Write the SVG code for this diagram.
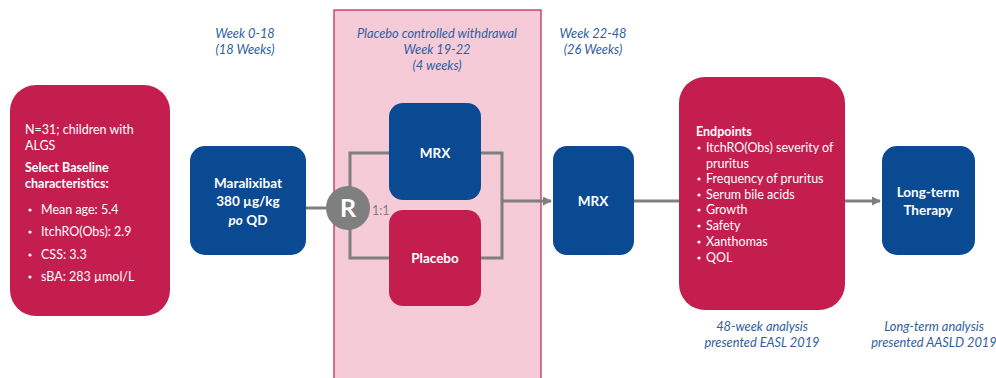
<svg xmlns="http://www.w3.org/2000/svg" width="996" height="378" viewBox="0 0 996 378">
<defs>
<style>
.red{fill:#C41E4F}
.blue{fill:#0A4A93}
.wt{fill:#fff;font-family:Lato,"Open Sans",sans-serif;font-weight:bold;font-size:13.5px;text-anchor:middle}
.lt{fill:#fff;font-family:Lato,"Open Sans",sans-serif;font-size:12.5px}
.lb{fill:#fff;font-family:Lato,"Open Sans",sans-serif;font-size:12.5px;font-weight:bold}
.it{fill:#2F5E9E;font-family:Lato,"Open Sans",sans-serif;font-style:italic;font-size:12.8px;text-anchor:middle}
.ln{stroke:#7F7F7F;stroke-width:3;fill:none}
.bu{fill:#fff}
</style>
<marker id="ah" viewBox="0 0 10 10" refX="9" refY="5" markerWidth="3" markerHeight="3" orient="auto" markerUnits="strokeWidth">
<path d="M0,0 L10,5 L0,10 z" fill="#7F7F7F"/>
</marker>
</defs>
<rect width="996" height="378" fill="#fff"/>
<g id="phase2">
<rect x="334" y="10" width="207" height="380" fill="#F5CBD8" stroke="#C41E4F" stroke-width="1.2"/>
<text class="it" x="437" y="38">Placebo controlled withdrawal</text>
<text class="it" x="437" y="54">Week 19-22</text>
<text class="it" x="437" y="70">(4 weeks)</text>
</g>
<g id="phase1-label">
<text class="it" x="245" y="38">Week 0-18</text>
<text class="it" x="245" y="54">(18 Weeks)</text>
</g>
<g id="phase3-label">
<text class="it" x="593" y="38">Week 22-48</text>
<text class="it" x="593" y="54">(26 Weeks)</text>
</g>
<g id="connectors">
<line class="ln" x1="306" y1="208" x2="326" y2="208"/>
<polyline class="ln" points="350,190 350,153 389,153"/>
<polyline class="ln" points="350,226 350,258 389,258"/>
<polyline class="ln" points="481,153 502,153 502,258 481,258"/>
<line class="ln" x1="502" y1="201" x2="551" y2="201" marker-end="url(#ah)"/>
<line class="ln" x1="634" y1="201" x2="680" y2="201"/>
<line class="ln" x1="845" y1="201" x2="880" y2="201" marker-end="url(#ah)"/>
</g>
<g id="population">
<rect class="red" x="10" y="85" width="160" height="231" rx="26"/>
<text class="lt" x="25" y="134">N=31; children with</text>
<text class="lt" x="25" y="150">ALGS</text>
<text class="lb" x="25" y="172">Select Baseline</text>
<text class="lb" x="25" y="188">characteristics:</text>
<circle class="bu" cx="30" cy="210" r="1.6"/><text class="lt" x="41" y="214">Mean age: 5.4</text>
<circle class="bu" cx="30" cy="232" r="1.6"/><text class="lt" x="41" y="236">ItchRO(Obs): 2.9</text>
<circle class="bu" cx="30" cy="255" r="1.6"/><text class="lt" x="41" y="259">CSS: 3.3</text>
<circle class="bu" cx="30" cy="277" r="1.6"/><text class="lt" x="41" y="281">sBA: 283 µmol/L</text>
</g>
<g id="maralixibat">
<rect class="blue" x="190" y="146" width="116" height="109" rx="15"/>
<text class="wt" x="248" y="188">Maralixibat</text>
<text class="wt" x="248" y="206">380 µg/kg</text>
<text class="wt" x="248" y="225"><tspan font-style="italic">po</tspan> QD</text>
</g>
<g id="randomize">
<circle cx="348" cy="208" r="22" fill="#7F7F7F"/>
<text x="348" y="217" fill="#fff" font-family="Lato,'Open Sans',sans-serif" font-weight="bold" font-size="25" text-anchor="middle">R</text>
<text x="372" y="215" fill="#7F7F7F" font-family="Lato,'Open Sans',sans-serif" font-size="12.5">1:1</text>
</g>
<g id="mrx-arm">
<rect class="blue" x="389" y="103" width="92" height="97" rx="14"/>
<text class="wt" x="435" y="158">MRX</text>
</g>
<g id="placebo-arm">
<rect class="red" x="389" y="210" width="92" height="96" rx="14"/>
<text class="wt" x="435" y="263">Placebo</text>
</g>
<g id="mrx-ol">
<rect class="blue" x="553" y="146" width="81" height="109" rx="14"/>
<text class="wt" x="593" y="206">MRX</text>
</g>
<g id="endpoints">
<rect class="red" x="679" y="77" width="166" height="233" rx="26"/>
<text class="lb" x="696" y="136">Endpoints</text>
<circle class="bu" cx="699" cy="148" r="1.6"/><text class="lt" x="706" y="152">ItchRO(Obs) severity of</text>
<text class="lt" x="706" y="168">pruritus</text>
<circle class="bu" cx="699" cy="179" r="1.6"/><text class="lt" x="706" y="183">Frequency of pruritus</text>
<circle class="bu" cx="699" cy="195" r="1.6"/><text class="lt" x="706" y="199">Serum bile acids</text>
<circle class="bu" cx="699" cy="210" r="1.6"/><text class="lt" x="706" y="214">Growth</text>
<circle class="bu" cx="699" cy="226" r="1.6"/><text class="lt" x="706" y="230">Safety</text>
<circle class="bu" cx="699" cy="242" r="1.6"/><text class="lt" x="706" y="246">Xanthomas</text>
<circle class="bu" cx="699" cy="258" r="1.6"/><text class="lt" x="706" y="262">QOL</text>
<text class="it" x="762" y="331">48-week analysis</text>
<text class="it" x="762" y="347">presented EASL 2019</text>
</g>
<g id="longterm">
<rect class="blue" x="882" y="146" width="93" height="109" rx="15"/>
<text class="wt" x="928" y="197">Long-term</text>
<text class="wt" x="928" y="215">Therapy</text>
<text class="it" x="934" y="331">Long-term analysis</text>
<text class="it" x="934" y="347">presented AASLD 2019</text>
</g>
</svg>
